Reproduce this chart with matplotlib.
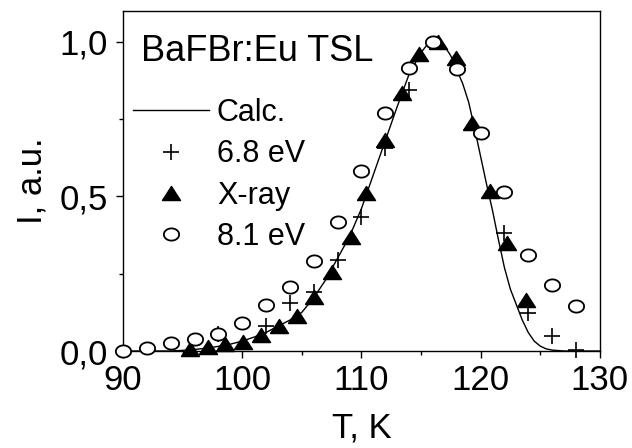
import numpy as np
import matplotlib.pyplot as plt
from matplotlib.ticker import MultipleLocator, FuncFormatter

plt.rcParams['font.family'] = ['Liberation Sans', 'DejaVu Sans']

# calculated glow curve
calc_T = [90, 94, 95, 96, 97, 98, 99, 100, 101, 102, 103, 104, 105, 106, 107, 108,
          109, 110, 111, 112, 113, 114, 115, 115.5, 116, 116.5, 117, 117.5, 118,
          118.5, 119, 119.5, 120, 120.5, 121, 121.5, 122, 122.5, 123, 123.5, 124,
          124.5, 125, 125.5, 126, 127, 130]
calc_I = [0.0, 0.0, 0.002, 0.005, 0.009, 0.015, 0.022, 0.032, 0.045, 0.06, 0.08, 0.1,
          0.125, 0.172, 0.23, 0.3, 0.37, 0.46, 0.57, 0.68, 0.79, 0.895, 0.965, 0.99,
          1.0, 1.0, 0.985, 0.955, 0.91, 0.865, 0.805, 0.72, 0.63, 0.54, 0.455, 0.36,
          0.27, 0.2, 0.15, 0.1, 0.06, 0.032, 0.016, 0.007, 0.003, 0.0, 0.0]

# 6.8 eV
uv68_T = [98, 102, 104, 106, 108, 110, 112, 114, 122, 124, 126, 128]
uv68_I = [0.054, 0.081, 0.154, 0.19, 0.293, 0.432, 0.657, 0.845, 0.382, 0.122, 0.049, 0.003]

# X-ray
xray_T = [95.6, 97.1, 98.6, 100.1, 101.6, 103.1, 104.6, 106.0, 107.5, 109.1, 110.4,
          112.0, 113.4, 114.8, 116.4, 117.9, 119.3, 120.8, 122.2, 123.8]
xray_I = [0.005, 0.014, 0.022, 0.03, 0.051, 0.081, 0.112, 0.176, 0.255, 0.369, 0.51,
          0.684, 0.836, 0.96, 1.0, 0.947, 0.736, 0.519, 0.348, 0.166]

# 8.1 eV
uv81_T = [90, 92, 94, 96, 98, 100, 102, 104, 106, 108, 110, 112, 114, 116, 118, 120,
          122, 124, 126, 128]
uv81_I = [0.0, 0.009, 0.027, 0.038, 0.054, 0.089, 0.149, 0.208, 0.29, 0.418, 0.581,
          0.771, 0.917, 1.0, 0.912, 0.706, 0.516, 0.309, 0.212, 0.147]

# marker shapes: flat triangle and squashed circle like the original
tri = [(-1, -0.78), (1, -0.78), (0, 0.78), (-1, -0.78)]
ang = np.linspace(0, 2 * np.pi, 41)
ell = list(zip(np.cos(ang), 0.8 * np.sin(ang)))

fig = plt.figure(figsize=(6.32, 4.48), dpi=100)
ax = fig.add_axes([0.1946, 0.2165, 0.7544, 0.759])

ax.plot(calc_T, calc_I, color='black', lw=1.0, label='Calc.', zorder=2)
ax.plot(uv68_T, uv68_I, ls='none', marker='+', ms=11, mew=1.2, color='black',
        label='6.8 eV', zorder=3, clip_on=False)
ax.plot(xray_T, xray_I, ls='none', marker=tri, ms=13, color='black',
        label='X-ray', zorder=4, clip_on=False)
ax.plot(uv81_T, uv81_I, ls='none', marker=ell, ms=11, mfc='white', mec='black',
        mew=1.3, label='8.1 eV', zorder=5, clip_on=False)

ax.set_xlim(90, 130)
ax.set_ylim(0, 1.1)
ax.xaxis.set_major_locator(MultipleLocator(10))
ax.xaxis.set_minor_locator(MultipleLocator(5))
ax.yaxis.set_major_locator(MultipleLocator(0.5))
ax.yaxis.set_minor_locator(MultipleLocator(0.25))
ax.yaxis.set_major_formatter(FuncFormatter(lambda v, p: f'{v:.1f}'.replace('.', ',')))
ax.tick_params(which='major', direction='out', length=5, width=1, labelsize=25, pad=4)
ax.tick_params(which='minor', direction='out', length=3, width=1)
ax.tick_params(axis='y', pad=6)
for s in ax.spines.values():
    s.set_linewidth(1.0)

ax.set_xlabel('T, K', fontsize=25, labelpad=11)
ax.set_ylabel('I, a.u.', fontsize=25, labelpad=8)

ax.text(0.037, 0.88, 'BaFBr:Eu TSL', transform=ax.transAxes, fontsize=26,
        va='center', ha='left')

ax.legend(loc='upper left', bbox_to_anchor=(-0.005, 0.78), frameon=False,
          fontsize=22, handlelength=2.5, handletextpad=0.25, labelspacing=0.37,
          borderaxespad=0)

fig.savefig('out.png', dpi=100)
